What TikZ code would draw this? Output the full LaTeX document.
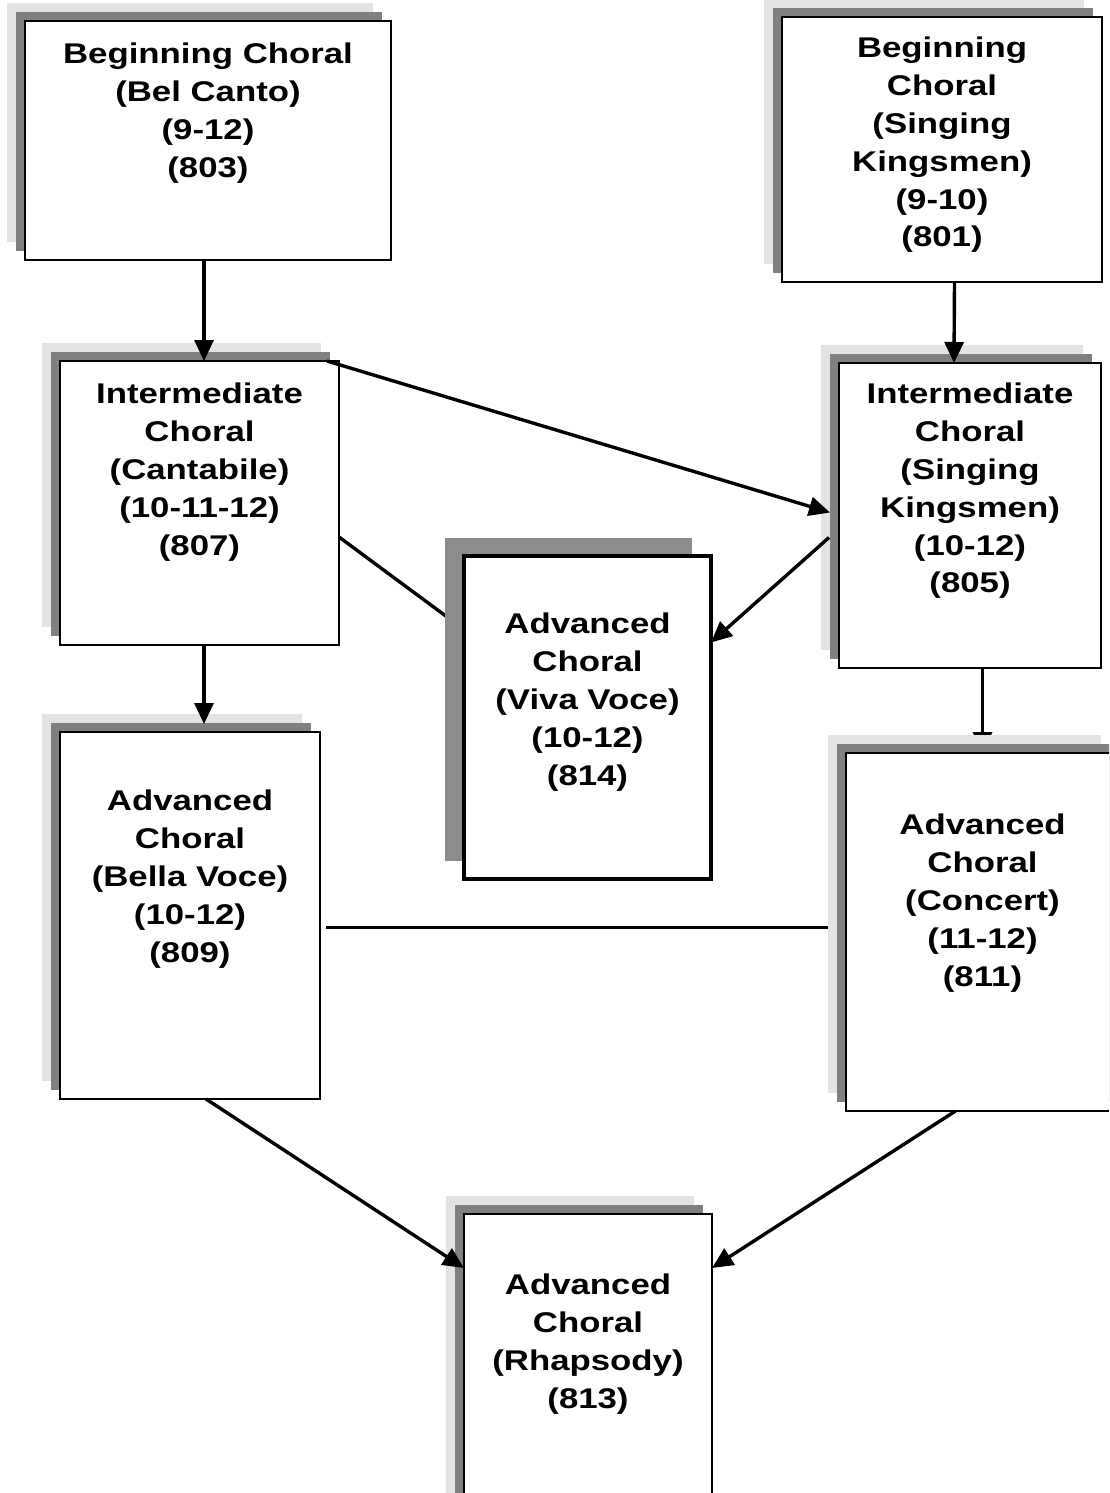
\documentclass[tikz,border=0pt]{standalone}
\usepackage{fontspec}
\usepackage{tikz}
\usetikzlibrary{arrows.meta,positioning,shadows,backgrounds}
\newfontfamily\choralfont{Liberation Sans}[FakeStretch=1.22]
\definecolor{shadedark}{gray}{0.5}
\definecolor{shadelight}{gray}{0.89}
\tikzset{
    choralbox/.style={draw, rectangle, fill=white, line width=1.4pt, inner sep=0pt, outer sep=0pt,
        general shadow={fill=shadelight, shadow xshift=-18pt, shadow yshift=18pt},
        general shadow={fill=shadedark, shadow xshift=-9pt, shadow yshift=9pt}},
    vivabox/.style={draw, rectangle, fill=white, line width=4pt, inner sep=0pt, outer sep=0pt,
        general shadow={fill=shadedark!90!white, shadow xshift=-19pt, shadow yshift=18pt}},
    choraltext/.style={align=center, inner sep=0pt, font=\choralfont\bfseries\fontsize{28.5}{37.8}\selectfont},
    link/.style={line width=3.4pt}
}

\begin{document}
\begin{tikzpicture}[x=1pt, y=-1pt, >={Triangle[length=21pt,width=19pt]}]
    \useasboundingbox (0,0) rectangle (1109,1493);
    \clip (0,0) rectangle (1109,1493);

    \node[choralbox, minimum width=366pt, minimum height=239pt] (bel) at (208,140.5) {};
    \node[choralbox, minimum width=320pt, minimum height=265pt] (sk1) at (942,149.5) {};
    \node[choralbox, minimum width=279pt, minimum height=284pt] (can) at (199.5,503) {};
    \node[choralbox, minimum width=262pt, minimum height=305pt] (skint) at (970,515.5) {};
    \node[vivabox, minimum width=247pt, minimum height=323pt] (viva) at (587.5,717.5) {};
    \node[choralbox, minimum width=260pt, minimum height=367pt] (bella) at (190,915.5) {};
    \node[choralbox, minimum width=273pt, minimum height=358pt] (concert) at (982.5,932) {};
    \node[choralbox, minimum width=248pt, minimum height=306pt] (rhap) at (588,1367) {};

    \node[choraltext, below=22pt of bel.north] (belText) {Beginning Choral\\(Bel Canto)\\(9-12)\\(803)};
    \node[choraltext, below=20pt of sk1.north] (sk1Text) {Beginning\\Choral\\(Singing\\Kingsmen)\\(9-10)\\(801)};
    \node[choraltext, below=22pt of can.north] (canText) {Intermediate\\Choral\\(Cantabile)\\(10-11-12)\\(807)};
    \node[choraltext, below=20pt of skint.north] (skintText) {Intermediate\\Choral\\(Singing\\Kingsmen)\\(10-12)\\(805)};
    \node[choraltext, below=57pt of viva.north] (vivaText) {Advanced\\Choral\\(Viva Voce)\\(10-12)\\(814)};
    \node[choraltext, below=58pt of bella.north] (bellaText) {Advanced\\Choral\\(Bella Voce)\\(10-12)\\(809)};
    \node[choraltext, below=61pt of concert.north] (concertText) {Advanced\\Choral\\(Concert)\\(11-12)\\(811)};
    \node[choraltext, below=60pt of rhap.north] (rhapText) {Advanced\\Choral\\(Rhapsody)\\(813)};

    \draw[link,->] ([xshift=-4pt]bel.south) -- ([xshift=4.5pt]can.north);
    \draw[link,->] ([xshift=12.5pt]sk1.south) -- ([xshift=-16pt]skint.north);
    \draw[link,->] ([xshift=-12pt]can.north east) -- ([xshift=-9pt,yshift=3pt]skint.west);
    \draw[link,->] ([xshift=-10pt,yshift=-22pt]skint.west) -- ([yshift=75pt]viva.east);
    \draw[link,->] ([xshift=4.5pt]can.south) -- ([xshift=14pt,yshift=8pt]bella.north);
    \draw[link,->] ([xshift=16pt]bella.south) -- ([yshift=-54pt]rhap.north west);
    \draw[link,->] ([xshift=-27pt]concert.south) -- ([yshift=-54pt]rhap.north east);

    \begin{scope}[on background layer]
        \draw[link] ([yshift=-34pt]can.east) -- ([yshift=88pt]viva.west);
        \draw[link,->] (concert.north |- skint.south) -- (concert.north);
        \coordinate (bellaOut) at ([yshift=-12pt]bella.east);
        \draw[link] ([xshift=6pt]bellaOut) -- (bellaOut -| concert.west);
    \end{scope}
\end{tikzpicture}
\end{document}
